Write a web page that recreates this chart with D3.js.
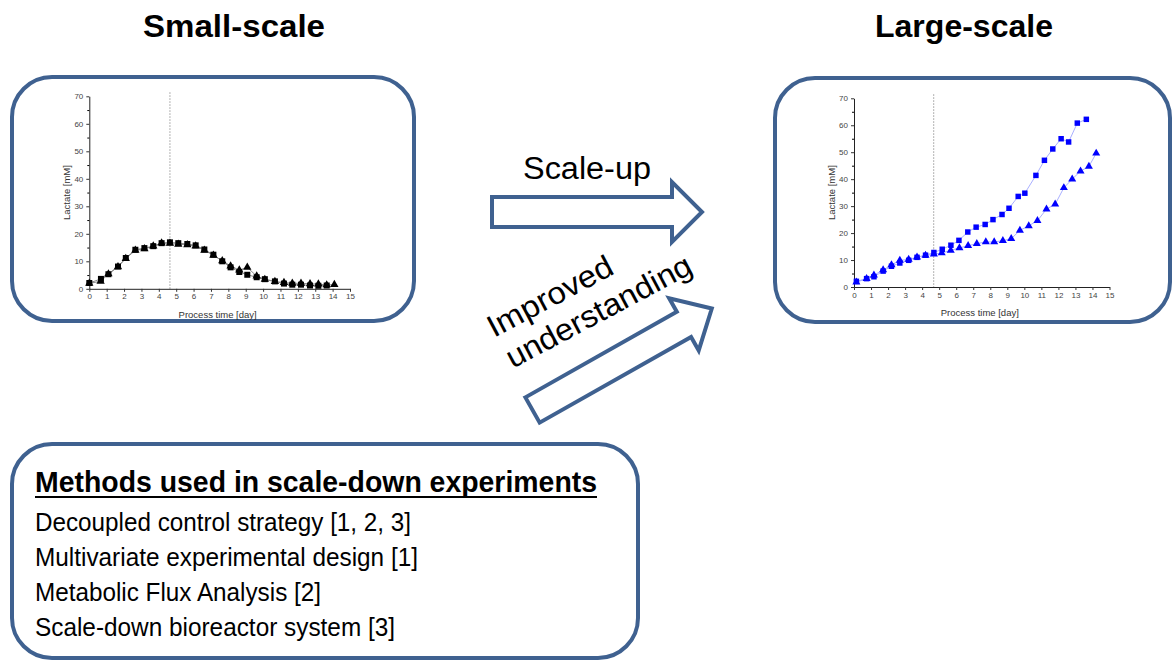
<!DOCTYPE html>
<html>
<head>
<meta charset="utf-8">
<script src="https://cdn.jsdelivr.net/npm/d3@7"></script>
<style>
  html, body { margin: 0; padding: 0; background: #ffffff; }
  svg { display: block; font-family: "Liberation Sans", Arial, sans-serif; }
</style>
</head>
<body>
<svg id="fig" width="1173" height="661"></svg>
<script>
// ---- Lactate time courses (process time in days, lactate in mM) ----
const smallSquareDays = [0.0, 0.67, 1.1, 1.65, 2.1, 2.65, 3.17, 3.68, 4.16, 4.64, 5.12, 5.64, 6.12, 6.62, 7.14, 7.65, 8.13, 8.63, 9.09, 9.63, 10.1, 10.68, 11.2, 11.68, 12.18, 12.7, 13.18, 13.66];
const smallSquareLactate = [2.1, 3.6, 5.3, 8.1, 11.2, 14.2, 14.8, 15.5, 16.6, 16.9, 16.6, 16.3, 15.8, 14.3, 12.4, 10.0, 7.8, 6.1, 5.1, 4.2, 3.5, 2.7, 1.9, 1.5, 1.5, 1.2, 1.1, 1.2];
const smallTriangleDays = [0.0, 0.65, 1.1, 1.65, 2.1, 2.65, 3.17, 3.68, 4.16, 4.64, 5.12, 5.64, 6.12, 6.62, 7.14, 7.65, 8.13, 8.63, 9.09, 9.63, 10.1, 10.68, 11.2, 11.68, 12.18, 12.7, 13.18, 13.66, 14.1];
const smallTriangleLactate = [2.0, 2.7, 5.4, 8.0, 11.0, 14.0, 14.5, 15.5, 16.6, 16.5, 16.2, 16.0, 15.5, 14.0, 12.2, 10.2, 8.3, 6.8, 7.8, 4.6, 3.4, 2.6, 2.3, 2.0, 2.0, 1.8, 1.7, 1.4, 1.5];

const largeSquareDays = [0.14, 0.74, 1.17, 1.71, 2.2, 2.69, 3.21, 3.7, 4.2, 4.69, 5.18, 5.69, 6.16, 6.68, 7.17, 7.7, 8.16, 8.69, 9.1, 9.64, 10.03, 10.68, 11.18, 11.67, 12.16, 12.6, 13.11, 13.64];
const largeSquareLactate = [2.1, 3.1, 3.8, 5.9, 7.7, 8.9, 9.9, 11.0, 11.8, 12.8, 14.0, 15.5, 17.3, 20.4, 22.2, 23.2, 25.0, 26.9, 29.2, 33.6, 34.8, 41.4, 47.0, 51.2, 55.0, 53.8, 60.8, 62.2];
const largeTriangleDays = [0.14, 0.74, 1.17, 1.71, 2.2, 2.69, 3.21, 3.7, 4.2, 4.69, 5.15, 5.68, 6.19, 6.7, 7.21, 7.74, 8.23, 8.74, 9.23, 9.74, 10.26, 10.77, 11.3, 11.81, 12.32, 12.81, 13.3, 13.79, 14.22];
const largeTriangleLactate = [1.8, 3.1, 4.4, 6.3, 8.2, 9.9, 10.2, 11.1, 11.7, 12.2, 12.6, 13.6, 14.5, 15.3, 16.1, 16.7, 16.7, 17.2, 17.9, 21.0, 22.7, 24.6, 28.9, 30.7, 36.8, 40.0, 43.0, 44.7, 49.6];

// Day of the dotted marker line in each panel
const smallMarkerDay = 4.64;
const largeMarkerDay = 4.68;

// Axis ticks
const dayTicks = d3.range(0, 16, 1);
const lactateTicks = [0, 10, 20, 30, 40, 50, 60, 70];
const lactateMinorTicks = [5, 15, 25, 35, 45, 55, 65];

// Text content
const panelTitles = ["Small-scale", "Large-scale"];
const methodsTitle = "Methods used in scale-down experiments";
const methodsItems = [
  "Decoupled control strategy [1, 2, 3]",
  "Multivariate experimental design [1]",
  "Metabolic Flux Analysis [2]",
  "Scale-down bioreactor system [3]"
];

const svg = d3.select("#fig");
const frameColor = "#3f6190";

// ---- rounded frames ----
function frame(x, y, w, h, r) {
  svg.append("rect")
    .attr("x", x).attr("y", y).attr("width", w).attr("height", h)
    .attr("rx", r).attr("ry", r)
    .attr("fill", "#ffffff").attr("stroke", frameColor).attr("stroke-width", 4);
}
frame(12, 77, 402, 244, 40);
frame(775, 78, 395, 244, 40);
frame(12, 444, 626, 214, 40);

// ---- headers ----
svg.append("text").attr("x", 143).attr("y", 37)
  .attr("font-size", 32).attr("font-weight", "bold")
  .attr("textLength", 182).attr("lengthAdjust", "spacingAndGlyphs")
  .text(panelTitles[0]);
svg.append("text").attr("x", 875).attr("y", 37)
  .attr("font-size", 32).attr("font-weight", "bold")
  .attr("textLength", 178).attr("lengthAdjust", "spacingAndGlyphs")
  .text(panelTitles[1]);

// ---- block arrows ----
function blockArrow(tx, ty, angle, length, shaftHalf, headLen, headHalf) {
  const b = length - headLen;
  const pts = [[0, -shaftHalf], [b, -shaftHalf], [b, -headHalf], [length, 0],
               [b, headHalf], [b, shaftHalf], [0, shaftHalf]];
  svg.append("path")
    .attr("d", "M" + pts.map(p => p.join(",")).join("L") + "Z")
    .attr("transform", `translate(${tx},${ty}) rotate(${angle})`)
    .attr("fill", "#ffffff").attr("stroke", frameColor).attr("stroke-width", 4)
    .attr("stroke-linejoin", "miter");
}
blockArrow(492, 212, 0, 210, 15, 30, 30);
blockArrow(532.5, 410, -29.5, 206, 14.5, 32, 30);

svg.append("text").attr("x", 523).attr("y", 179)
  .attr("font-size", 31)
  .attr("textLength", 128).attr("lengthAdjust", "spacingAndGlyphs")
  .text("Scale-up");

const rotText = svg.append("g").attr("transform", "translate(494,338) rotate(-28)");
rotText.append("text").attr("x", 0).attr("y", 0)
  .attr("font-size", 31)
  .attr("textLength", 138).attr("lengthAdjust", "spacingAndGlyphs")
  .text("Improved");
rotText.append("text").attr("x", 2).attr("y", 36)
  .attr("font-size", 31)
  .attr("textLength", 206).attr("lengthAdjust", "spacingAndGlyphs")
  .text("understanding");

// ---- methods list ----
svg.append("text").attr("x", 35).attr("y", 492)
  .attr("font-size", 29).attr("font-weight", "bold")
  .attr("textLength", 562).attr("lengthAdjust", "spacingAndGlyphs")
  .text(methodsTitle);
svg.append("line").attr("x1", 35).attr("x2", 597).attr("y1", 497).attr("y2", 497)
  .attr("stroke", "#000").attr("stroke-width", 2);

const itemWidths = [376, 383, 286, 360];
methodsItems.forEach((t, i) => {
  svg.append("text").attr("x", 35).attr("y", 531 + i * 35)
    .attr("font-size", 26)
    .attr("textLength", itemWidths[i]).attr("lengthAdjust", "spacingAndGlyphs")
    .text(t);
});

// ---- lactate panels ----
function panel(cfg) {
  const x = d3.scaleLinear().domain([0, 15]).range([cfg.x0, cfg.x1]);
  const y = d3.scaleLinear().domain([0, 70]).range([cfg.y0, cfg.y1]);
  const g = svg.append("g");

  // dotted marker line
  g.append("line")
    .attr("x1", x(cfg.markerDay)).attr("x2", x(cfg.markerDay))
    .attr("y1", y(70) - 4).attr("y2", y(0))
    .attr("stroke", "#9a9a9a").attr("stroke-width", 1)
    .attr("stroke-dasharray", "1.5,1.5");

  // axes
  const yAxis = g.append("g").attr("transform", `translate(${cfg.x0},0)`)
    .call(d3.axisLeft(y).tickValues(lactateTicks).tickSize(3).tickSizeOuter(0).tickPadding(3));
  g.append("g").attr("transform", `translate(${cfg.x0},0)`)
    .call(d3.axisLeft(y).tickValues(lactateMinorTicks).tickSize(2).tickSizeOuter(0).tickFormat(""))
    .select(".domain").remove();
  const xAxis = g.append("g").attr("transform", `translate(0,${cfg.y0})`)
    .call(d3.axisBottom(x).tickValues(dayTicks).tickSize(3).tickSizeOuter(0).tickPadding(2));
  [yAxis, xAxis].forEach(a => {
    a.selectAll("text").attr("font-size", 8).attr("fill", "#444")
      .attr("font-family", "Liberation Sans, Arial, sans-serif");
    a.selectAll("line").attr("stroke", "#333");
    a.select(".domain").attr("stroke", "#222");
  });

  g.append("text")
    .attr("transform", `translate(${cfg.x0 - 19},${(cfg.y0 + cfg.y1) / 2}) rotate(-90)`)
    .attr("text-anchor", "middle").attr("font-size", 9.5).attr("fill", "#333")
    .text("Lactate [mM]");
  g.append("text")
    .attr("x", (cfg.x0 + cfg.x1) / 2 - 2).attr("y", cfg.y0 + cfg.xLabelDy)
    .attr("text-anchor", "middle").attr("font-size", 9.5).attr("fill", "#333")
    .text("Process time [day]");

  const line = d3.line().x(d => x(d[0])).y(d => y(d[1]));
  cfg.series.forEach(s => {
    const pts = d3.zip(s.days, s.values);
    g.append("path").datum(pts).attr("d", line)
      .attr("fill", "none").attr("stroke", cfg.lineColor).attr("stroke-width", 1);
  });
  cfg.series.forEach(s => {
    const pts = d3.zip(s.days, s.values);
    const sym = d3.symbol().type(s.shape).size(s.size);
    g.selectAll(null).data(pts).join("path")
      .attr("d", sym)
      .attr("transform", d => `translate(${x(d[0])},${y(d[1])})`)
      .attr("fill", cfg.markerColor);
  });
}

panel({
  x0: 89.3, x1: 350, y0: 288.8, y1: 96.3, xLabelDy: 29,
  markerDay: smallMarkerDay, lineColor: "#8a8a8a", markerColor: "#000000",
  series: [
    { days: smallSquareDays, values: smallSquareLactate, shape: d3.symbolSquare, size: 36 },
    { days: smallTriangleDays, values: smallTriangleLactate, shape: d3.symbolTriangle, size: 30 }
  ]
});

panel({
  x0: 854, x1: 1109.5, y0: 287, y1: 98.3, xLabelDy: 29,
  markerDay: largeMarkerDay, lineColor: "#aab0ff", markerColor: "#0000ff",
  series: [
    { days: largeSquareDays, values: largeSquareLactate, shape: d3.symbolSquare, size: 30 },
    { days: largeTriangleDays, values: largeTriangleLactate, shape: d3.symbolTriangle, size: 28 }
  ]
});
</script>
</body>
</html>
